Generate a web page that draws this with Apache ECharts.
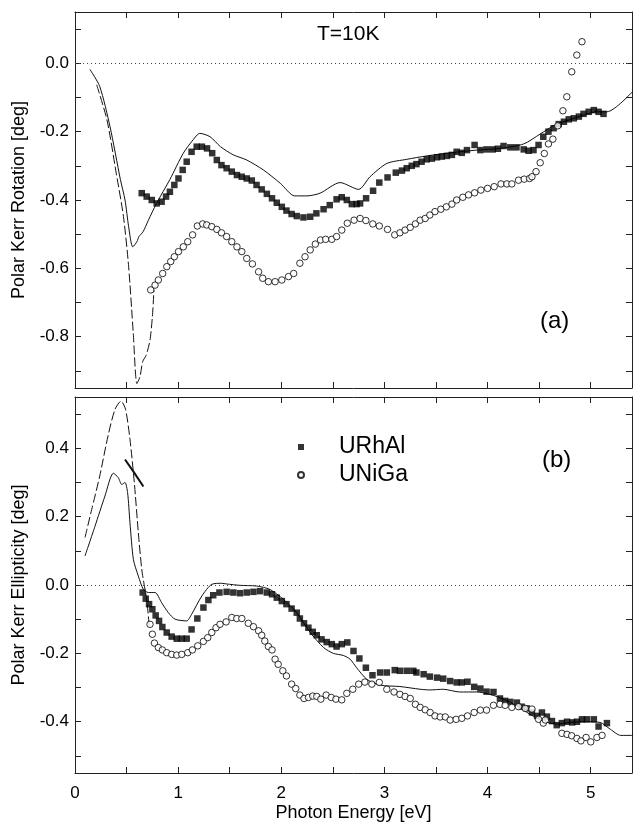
<!DOCTYPE html>
<html>
<head>
<meta charset="utf-8">
<script src="https://cdn.jsdelivr.net/npm/echarts@6/dist/echarts.min.js"></script>
<style>html,body{margin:0;padding:0;background:#fff;}#c{width:633px;height:827px;}</style>
</head>
<body>
<div id="c"></div>
<script>
// ---- tick / label values ----
const xTicks = [0, 0.5, 1, 1.5, 2, 2.5, 3, 3.5, 4, 4.5, 5];
const xLabels = [0, 1, 2, 3, 4, 5];
const rotTicks = [-0.9, -0.8, -0.7, -0.6, -0.5, -0.4, -0.3, -0.2, -0.1, 0, 0.1];
const rotLabels = [-0.8, -0.6, -0.4, -0.2, 0];
const ellTicks = [-0.5, -0.4, -0.3, -0.2, -0.1, 0, 0.1, 0.2, 0.3, 0.4, 0.5];
const ellLabels = [-0.4, -0.2, 0, 0.2, 0.4];

// ---- (a) Polar Kerr rotation ----
const rotTheoryURhAl = [[0.145,-0.018],[0.24,-0.068],[0.34,-0.186],[0.44,-0.34],[0.485,-0.40],[0.52,-0.478],[0.56,-0.537],[0.60,-0.522],[0.62,-0.507],[0.66,-0.493],[0.71,-0.46],[0.79,-0.41],[0.92,-0.34],[1.05,-0.263],[1.145,-0.224],[1.21,-0.205],[1.31,-0.215],[1.41,-0.244],[1.535,-0.268],[1.665,-0.283],[1.826,-0.312],[1.99,-0.351],[2.13,-0.388],[2.25,-0.388],[2.376,-0.38],[2.57,-0.349],[2.75,-0.369],[2.86,-0.332],[3.023,-0.293],[3.217,-0.281],[3.41,-0.271],[3.64,-0.262],[3.896,-0.254],[4.12,-0.249],[4.35,-0.236],[4.51,-0.207],[4.656,-0.18],[4.8,-0.165],[4.95,-0.15],[5.05,-0.142],[5.157,-0.142],[5.415,-0.08]];
const rotTheoryUNiGa = [[0.21,-0.063],[0.31,-0.166],[0.40,-0.322],[0.47,-0.449],[0.52,-0.595],[0.565,-0.79],[0.60,-0.937],[0.63,-0.917],[0.656,-0.873],[0.69,-0.854],[0.727,-0.81],[0.75,-0.742],[0.766,-0.663]];
const rotExpURhAl = [[0.647,-0.38],[0.695,-0.39],[0.744,-0.40],[0.792,-0.41],[0.84,-0.405],[0.883,-0.39],[0.92,-0.376],[0.963,-0.356],[1.003,-0.337],[1.044,-0.312],[1.083,-0.288],[1.13,-0.259],[1.18,-0.244],[1.23,-0.244],[1.28,-0.249],[1.33,-0.263],[1.375,-0.283],[1.42,-0.298],[1.47,-0.307],[1.52,-0.317],[1.57,-0.327],[1.617,-0.332],[1.665,-0.337],[1.714,-0.343],[1.76,-0.356],[1.81,-0.369],[1.86,-0.382],[1.91,-0.395],[1.956,-0.408],[2.005,-0.42],[2.05,-0.431],[2.10,-0.441],[2.15,-0.447],[2.215,-0.451],[2.28,-0.449],[2.34,-0.439],[2.41,-0.427],[2.47,-0.415],[2.536,-0.398],[2.586,-0.392],[2.635,-0.40],[2.684,-0.412],[2.73,-0.412],[2.764,-0.41],[2.822,-0.395],[2.89,-0.373],[2.95,-0.349],[3.03,-0.334],[3.11,-0.32],[3.17,-0.314],[3.216,-0.307],[3.265,-0.30],[3.31,-0.295],[3.36,-0.288],[3.41,-0.281],[3.46,-0.279],[3.51,-0.275],[3.556,-0.273],[3.605,-0.271],[3.654,-0.268],[3.70,-0.259],[3.75,-0.262],[3.80,-0.254],[3.874,-0.239],[3.93,-0.254],[3.99,-0.252],[4.05,-0.252],[4.10,-0.25],[4.155,-0.242],[4.22,-0.246],[4.28,-0.246],[4.35,-0.252],[4.397,-0.256],[4.445,-0.254],[4.494,-0.239],[4.54,-0.215],[4.59,-0.20],[4.64,-0.19],[4.69,-0.178],[4.74,-0.171],[4.787,-0.164],[4.836,-0.161],[4.885,-0.156],[4.93,-0.148],[4.98,-0.142],[5.03,-0.137],[5.076,-0.142],[5.124,-0.148]];
const rotExpUNiGa = [[0.734,-0.663],[0.776,-0.649],[0.808,-0.634],[0.85,-0.615],[0.89,-0.595],[0.928,-0.58],[0.963,-0.566],[1.003,-0.551],[1.05,-0.537],[1.093,-0.522],[1.14,-0.502],[1.186,-0.476],[1.238,-0.47],[1.277,-0.473],[1.326,-0.478],[1.375,-0.486],[1.42,-0.496],[1.47,-0.507],[1.52,-0.522],[1.57,-0.537],[1.617,-0.551],[1.665,-0.571],[1.72,-0.587],[1.78,-0.61],[1.82,-0.629],[1.875,-0.639],[1.94,-0.639],[2.005,-0.634],[2.07,-0.624],[2.12,-0.615],[2.18,-0.585],[2.23,-0.566],[2.28,-0.546],[2.33,-0.529],[2.38,-0.517],[2.43,-0.515],[2.49,-0.515],[2.536,-0.507],[2.586,-0.488],[2.64,-0.468],[2.706,-0.459],[2.764,-0.454],[2.82,-0.46],[2.887,-0.47],[2.95,-0.476],[3.03,-0.486],[3.10,-0.502],[3.15,-0.496],[3.20,-0.488],[3.25,-0.48],[3.30,-0.47],[3.346,-0.459],[3.395,-0.454],[3.44,-0.444],[3.49,-0.434],[3.547,-0.427],[3.60,-0.42],[3.654,-0.412],[3.70,-0.40],[3.76,-0.392],[3.815,-0.385],[3.874,-0.379],[3.935,-0.371],[4.0,-0.366],[4.064,-0.361],[4.13,-0.353],[4.187,-0.353],[4.235,-0.353],[4.30,-0.342],[4.355,-0.339],[4.407,-0.337],[4.43,-0.332],[4.47,-0.317],[4.51,-0.291],[4.55,-0.264],[4.59,-0.236],[4.633,-0.222],[4.68,-0.183],[4.73,-0.139],[4.768,-0.098],[4.816,-0.025],[4.865,0.024],[4.915,0.063]];

// ---- (b) Polar Kerr ellipticity ----
const ellTheoryURhAl = [[0.097,0.085],[0.194,0.172],[0.29,0.26],[0.372,0.327],[0.42,0.314],[0.453,0.294],[0.485,0.30],[0.51,0.27],[0.533,0.182],[0.566,0.075],[0.614,0.026],[0.663,-0.013],[0.711,-0.022],[0.776,-0.022],[0.84,-0.052],[0.905,-0.081],[0.97,-0.10],[1.083,-0.105],[1.13,-0.086],[1.23,-0.032],[1.326,0.002],[1.42,0.005],[1.47,0.003],[1.60,-0.001],[1.76,-0.003],[1.89,-0.013],[2.02,-0.042],[2.15,-0.081],[2.28,-0.139],[2.41,-0.183],[2.505,-0.20],[2.60,-0.206],[2.667,-0.217],[2.73,-0.242],[2.83,-0.276],[2.958,-0.293],[3.15,-0.297],[3.346,-0.305],[3.44,-0.307],[3.57,-0.305],[3.73,-0.313],[3.896,-0.313],[4.025,-0.32],[4.155,-0.334],[4.284,-0.354],[4.41,-0.378],[4.54,-0.398],[4.67,-0.407],[4.80,-0.402],[4.96,-0.40],[5.09,-0.402],[5.19,-0.422],[5.29,-0.44],[5.41,-0.44]];
const ellTheoryUNiGa = [[0.097,0.139],[0.162,0.221],[0.24,0.319],[0.32,0.436],[0.388,0.514],[0.446,0.538],[0.49,0.514],[0.533,0.426],[0.575,0.30],[0.614,0.153],[0.647,0.046],[0.67,0.002],[0.695,-0.042],[0.72,-0.12]];
const ellSegment = [[0.485,0.367],[0.575,0.328],[0.663,0.288]];
const ellExpURhAl = [[0.656,-0.022],[0.686,-0.04],[0.718,-0.056],[0.75,-0.071],[0.782,-0.089],[0.815,-0.105],[0.847,-0.123],[0.889,-0.139],[0.937,-0.151],[0.986,-0.157],[1.035,-0.157],[1.083,-0.157],[1.13,-0.13],[1.186,-0.098],[1.245,-0.066],[1.293,-0.044],[1.34,-0.03],[1.40,-0.022],[1.47,-0.02],[1.535,-0.022],[1.60,-0.024],[1.665,-0.022],[1.73,-0.02],[1.794,-0.018],[1.86,-0.022],[1.91,-0.027],[1.956,-0.037],[2.005,-0.047],[2.05,-0.056],[2.10,-0.069],[2.15,-0.081],[2.18,-0.098],[2.22,-0.112],[2.263,-0.125],[2.305,-0.137],[2.344,-0.147],[2.39,-0.159],[2.44,-0.167],[2.49,-0.173],[2.536,-0.18],[2.586,-0.173],[2.64,-0.168],[2.70,-0.193],[2.757,-0.215],[2.82,-0.242],[2.884,-0.264],[2.958,-0.256],[3.023,-0.256],[3.10,-0.249],[3.15,-0.251],[3.216,-0.251],[3.28,-0.251],[3.31,-0.256],[3.38,-0.261],[3.44,-0.268],[3.51,-0.271],[3.57,-0.274],[3.637,-0.281],[3.70,-0.285],[3.75,-0.285],[3.805,-0.283],[3.87,-0.298],[3.93,-0.303],[3.99,-0.312],[4.057,-0.313],[4.12,-0.332],[4.17,-0.339],[4.22,-0.342],[4.284,-0.344],[4.33,-0.356],[4.38,-0.361],[4.43,-0.373],[4.48,-0.383],[4.527,-0.373],[4.575,-0.385],[4.624,-0.398],[4.67,-0.41],[4.72,-0.404],[4.77,-0.40],[4.82,-0.402],[4.866,-0.40],[4.915,-0.393],[4.963,-0.393],[5.03,-0.393],[5.076,-0.414],[5.157,-0.404]];
const ellExpUNiGa = [[0.727,-0.115],[0.75,-0.144],[0.77,-0.17],[0.808,-0.183],[0.847,-0.19],[0.889,-0.198],[0.937,-0.203],[0.986,-0.205],[1.035,-0.203],[1.093,-0.198],[1.138,-0.19],[1.19,-0.178],[1.245,-0.165],[1.287,-0.154],[1.326,-0.139],[1.367,-0.125],[1.406,-0.115],[1.465,-0.108],[1.52,-0.095],[1.568,-0.098],[1.617,-0.098],[1.68,-0.112],[1.73,-0.122],[1.78,-0.134],[1.81,-0.147],[1.84,-0.164],[1.875,-0.18],[1.91,-0.19],[1.94,-0.217],[1.97,-0.232],[2.015,-0.251],[2.05,-0.266],[2.10,-0.29],[2.14,-0.303],[2.18,-0.322],[2.22,-0.332],[2.263,-0.329],[2.305,-0.325],[2.344,-0.326],[2.383,-0.334],[2.435,-0.322],[2.484,-0.329],[2.53,-0.334],[2.586,-0.336],[2.635,-0.317],[2.693,-0.305],[2.75,-0.29],[2.81,-0.284],[2.878,-0.29],[2.95,-0.285],[3.023,-0.305],[3.093,-0.313],[3.15,-0.32],[3.20,-0.326],[3.25,-0.332],[3.30,-0.349],[3.346,-0.358],[3.395,-0.365],[3.443,-0.373],[3.49,-0.383],[3.54,-0.386],[3.59,-0.386],[3.637,-0.395],[3.695,-0.393],[3.75,-0.39],[3.805,-0.383],[3.87,-0.373],[3.93,-0.366],[3.99,-0.366],[4.057,-0.352],[4.12,-0.349],[4.17,-0.352],[4.235,-0.358],[4.30,-0.356],[4.365,-0.361],[4.43,-0.363],[4.494,-0.393],[4.54,-0.404],[4.56,-0.395],[4.72,-0.434],[4.77,-0.437],[4.815,-0.441],[4.866,-0.449],[4.905,-0.456],[4.955,-0.446],[5.0,-0.459],[5.06,-0.446],[5.11,-0.44]];

const FONT = "'Liberation Sans', Arial, sans-serif";
const AX = '#222';

function xAxisDef(grid, pos, showLabels) {
  return {
    type: 'value', gridIndex: grid, position: pos, min: 0, max: 5.4,
    axisLine: { show: true, onZero: false, lineStyle: { color: AX, width: 1 } },
    axisTick: { show: true, inside: true, length: 6, customValues: xTicks, lineStyle: { color: AX } },
    axisLabel: { show: showLabels, customValues: xLabels, margin: 12, fontSize: 17, color: '#000', fontFamily: FONT, formatter: v => String(Math.round(v)) },
    splitLine: { show: false },
    name: showLabels ? 'Photon Energy [eV]' : '', nameLocation: 'middle', nameGap: 31,
    nameTextStyle: { fontSize: 18, color: '#000', fontFamily: FONT }
  };
}
function yAxisDef(grid, pos, mn, mx, ticks, labels, name) {
  return {
    type: 'value', gridIndex: grid, position: pos, min: mn, max: mx,
    axisLine: { show: true, onZero: false, lineStyle: { color: AX, width: 1 } },
    axisTick: { show: true, inside: true, length: 6, customValues: ticks, lineStyle: { color: AX } },
    axisLabel: { show: !!name, customValues: labels, margin: 6, fontSize: 17, color: '#000', fontFamily: FONT, formatter: v => (Math.abs(v) < 1e-9 ? '0.0' : Number(v).toFixed(1)) },
    splitLine: { show: false },
    name: name || '', nameLocation: 'middle', nameGap: 47,
    nameTextStyle: { fontSize: 18, color: '#000', fontFamily: FONT }
  };
}
const zeroLine = {
  silent: true, symbol: ['none', 'none'], label: { show: false },
  lineStyle: { type: [1, 3], color: '#444', width: 1 },
  data: [{ yAxis: 0 }]
};
function lineS(name, data, xi, yi, dashed, width, extra) {
  return Object.assign({
    name: name, type: 'line', xAxisIndex: xi, yAxisIndex: yi, data: data,
    showSymbol: false, symbol: 'none', smooth: 0.25,
    lineStyle: { color: '#111', width: width || 1, type: dashed ? [9, 3] : 'solid' },
    z: 3
  }, extra || {});
}
function sqS(data, xi, yi) {
  return { name: 'URhAl', type: 'scatter', xAxisIndex: xi, yAxisIndex: yi, data: data,
    symbol: 'rect', symbolSize: 6.5, itemStyle: { color: '#000' }, z: 4 };
}
function ciS(data, xi, yi) {
  return { name: 'UNiGa', type: 'scatter', xAxisIndex: xi, yAxisIndex: yi, data: data,
    symbol: 'circle', symbolSize: 6.5, itemStyle: { color: '#fff', borderColor: '#000', borderWidth: 1 }, z: 5 };
}

const chart = echarts.init(document.getElementById('c'), null, { renderer: 'canvas' });
chart.setOption({
  animation: false,
  backgroundColor: '#fff',
  grid: [
    { left: 75, top: 12, width: 557, height: 376 },
    { left: 75, top: 397, width: 557, height: 376 }
  ],
  xAxis: [
    xAxisDef(0, 'bottom', false), xAxisDef(0, 'top', false),
    xAxisDef(1, 'bottom', true), xAxisDef(1, 'top', false)
  ],
  yAxis: [
    yAxisDef(0, 'left', -0.95, 0.15, rotTicks, rotLabels, 'Polar Kerr Rotation [deg]'),
    yAxisDef(0, 'right', -0.95, 0.15, rotTicks, rotLabels, null),
    yAxisDef(1, 'left', -0.55, 0.55, ellTicks, ellLabels, 'Polar Kerr Ellipticity [deg]'),
    yAxisDef(1, 'right', -0.55, 0.55, ellTicks, ellLabels, null)
  ],
  legend: {
    data: ['URhAl', 'UNiGa'], orient: 'vertical', left: 292, top: 430,
    itemWidth: 6, itemHeight: 6, itemGap: 4,
    textStyle: { fontSize: 23, color: '#000', fontFamily: FONT, padding: [0, 0, 0, 30], lineHeight: 24 },
    selectedMode: false
  },
  graphic: [
    { type: 'text', left: 317, top: 24, style: { text: 'T=10K', fontSize: 21, fill: '#000', fontFamily: FONT } },
    { type: 'text', left: 540, top: 309, style: { text: '(a)', fontSize: 24, fill: '#000', fontFamily: FONT } },
    { type: 'text', left: 542, top: 448, style: { text: '(b)', fontSize: 24, fill: '#000', fontFamily: FONT } }
  ],
  series: [
    lineS('rotTheoryURhAl', rotTheoryURhAl, 0, 0, false, 1, { markLine: zeroLine }),
    lineS('rotTheoryUNiGa', rotTheoryUNiGa, 0, 0, true, 1),
    sqS(rotExpURhAl, 0, 0),
    ciS(rotExpUNiGa, 0, 0),
    lineS('ellTheoryURhAl', ellTheoryURhAl, 2, 2, false, 1, { markLine: zeroLine }),
    lineS('ellTheoryUNiGa', ellTheoryUNiGa, 2, 2, true, 1),
    lineS('ellSegment', ellSegment, 2, 2, false, 2, { smooth: false }),
    sqS(ellExpURhAl, 2, 2),
    ciS(ellExpUNiGa, 2, 2)
  ]
});
</script>
</body>
</html>
